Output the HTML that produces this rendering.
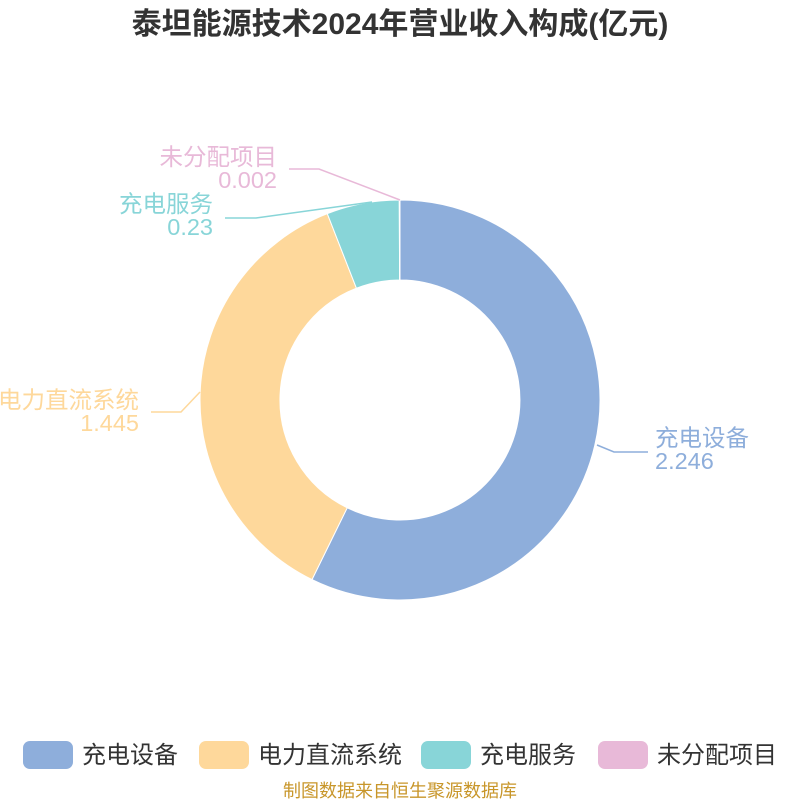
<!DOCTYPE html>
<html><head><meta charset="utf-8"><style>
body{margin:0;background:#fff;}
</style></head><body>
<svg width="800" height="800" xmlns="http://www.w3.org/2000/svg" font-family="Liberation Sans, Noto Sans CJK SC, sans-serif">
<rect width="800" height="800" fill="#fff"/>
<text x="400" y="34" text-anchor="middle" font-size="30" font-weight="bold" fill="#333">泰坦能源技术2024年营业收入构成(亿元)</text>
<g stroke="#fff" stroke-width="1">
<path d="M400,200 A200,200 0 1 1 312,579.6 L347.2,507.8 A120,120 0 1 0 400,280 Z" fill="#8eaedb"/>
<path d="M312,579.6 A200,200 0 0 1 327.3,213.7 L356.4,288.2 A120,120 0 0 0 347.2,507.8 Z" fill="#fed89b"/>
<path d="M327.3,213.7 A200,200 0 0 1 399.3,200 L399.6,280 A120,120 0 0 0 356.4,288.2 Z" fill="#88d5d8"/>
<path d="M399.3,200 A200,200 0 0 1 400,200 L400,280 A120,120 0 0 0 399.6,280 Z" fill="#e8b9d8"/>
</g>
<g fill="none" stroke-width="1.5">
<polyline points="400,200 319,169 289,169" stroke="#e8b9d8"/>
<polyline points="372,202 256,218 225,218" stroke="#88d5d8"/>
<polyline points="200,392 181,412 151,412" stroke="#fed89b"/>
<polyline points="597,445 614,452 648,452" stroke="#8eaedb"/>
</g>
<g font-size="23.5">
<text x="277" y="165" text-anchor="end" fill="#e8b9d8">未分配项目</text>
<text x="277" y="188" text-anchor="end" fill="#e8b9d8">0.002</text>
<text x="213" y="212" text-anchor="end" fill="#88d5d8">充电服务</text>
<text x="213" y="235" text-anchor="end" fill="#88d5d8">0.23</text>
<text x="139" y="408" text-anchor="end" fill="#fed89b">电力直流系统</text>
<text x="139" y="431" text-anchor="end" fill="#fed89b">1.445</text>
<text x="655" y="446" fill="#8eaedb">充电设备</text>
<text x="655" y="469" fill="#8eaedb">2.246</text>
</g>
<g font-size="24" fill="#333">
<rect x="23" y="741" width="50" height="28" rx="7" fill="#8eaedb"/>
<text x="82" y="763">充电设备</text>
<rect x="199" y="741" width="50" height="28" rx="7" fill="#fed89b"/>
<text x="258" y="763">电力直流系统</text>
<rect x="421" y="741" width="50" height="28" rx="7" fill="#88d5d8"/>
<text x="480" y="763">充电服务</text>
<rect x="598" y="741" width="50" height="28" rx="7" fill="#e8b9d8"/>
<text x="657" y="763">未分配项目</text>
</g>
<text x="400" y="797" text-anchor="middle" font-size="18" fill="#c8962a">制图数据来自恒生聚源数据库</text>
</svg>
</body></html>
